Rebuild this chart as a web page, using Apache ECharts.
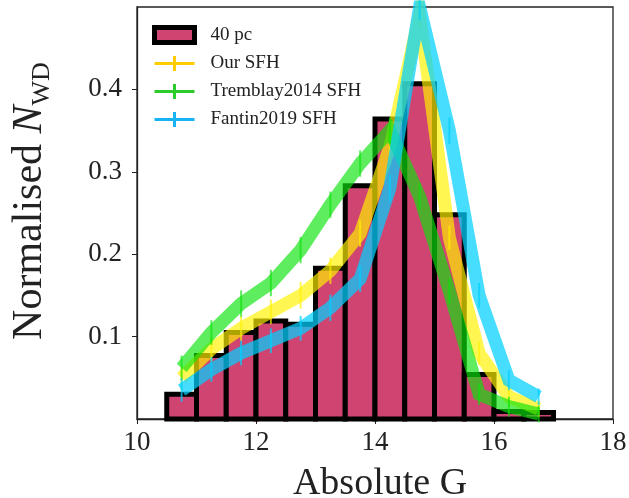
<!DOCTYPE html>
<html>
<head>
<meta charset="utf-8">
<script src="https://cdn.jsdelivr.net/npm/echarts@6/dist/echarts.min.js"></script>
<style>
  html, body { margin: 0; padding: 0; background: #fff; }
  #chart { width: 629px; height: 498px; }
</style>
</head>
<body>
<div id="chart"></div>
<script>
// Histogram of the 40 pc white dwarf sample (bin edges in absolute G magnitude)
const binEdges = [10.5, 11.0, 11.5, 12.0, 12.5, 13.0, 13.5, 14.0, 14.5, 15.0, 15.5, 16.0, 16.5, 17.0];
const sample40pc = [0.030, 0.077, 0.105, 0.119, 0.115, 0.183, 0.283, 0.364, 0.407, 0.248, 0.054, 0.009, 0.008];

// Model predictions at bin centres
const binCentres = [10.75, 11.25, 11.75, 12.25, 12.75, 13.25, 13.75, 14.25, 14.75, 15.25, 15.75, 16.25, 16.75];
const ourSFH      = [0.050, 0.085, 0.110, 0.130, 0.150, 0.180, 0.225, 0.330, 0.490, 0.220, 0.080, 0.027, 0.012];
const tremblaySFH = [0.062, 0.105, 0.140, 0.165, 0.205, 0.260, 0.310, 0.350, 0.270, 0.155, 0.030, 0.015, 0.006];
const fantinSFH   = [0.035, 0.060, 0.080, 0.095, 0.110, 0.135, 0.170, 0.280, 0.500, 0.350, 0.150, 0.047, 0.027];
const ourErr      = [0.015, 0.015, 0.015, 0.015, 0.016, 0.016, 0.016, 0.016, 0.016, 0.015, 0.014, 0.012, 0.010];
const tremblayErr = [0.015, 0.015, 0.016, 0.016, 0.016, 0.016, 0.016, 0.016, 0.016, 0.015, 0.013, 0.012, 0.010];
const fantinErr   = [0.014, 0.015, 0.015, 0.015, 0.015, 0.016, 0.016, 0.016, 0.016, 0.016, 0.015, 0.012, 0.010];

// Axis ticks
const xTicks = [10, 12, 14, 16, 18];
const yTicks = [0.1, 0.2, 0.3, 0.4];

const FONT = 'Liberation Serif';
const BAR_FILL = '#cf4470';

const models = [
  { name: 'Our SFH',          values: ourSFH,      err: ourErr,      band: 'rgba(255,242,0,0.68)', solid: '#ffcc00' },
  { name: 'Tremblay2014 SFH', values: tremblaySFH, err: tremblayErr, band: 'rgba(10,228,10,0.66)', solid: '#2ccc2c' },
  { name: 'Fantin2019 SFH',   values: fantinSFH,   err: fantinErr,   band: 'rgba(0,208,255,0.72)', solid: '#16b4f2' }
];

// Legend "+" glyph sized to the legend item box (40 x 15)
const PLUS = 'path://M0,6 L18.5,6 L18.5,0 L21.5,0 L21.5,6 L40,6 L40,9 L21.5,9 L21.5,15 L18.5,15 L18.5,9 L0,9 Z';

const histData = sample40pc.map((v, i) => [binEdges[i], binEdges[i + 1], v]);

const series = [{
  name: '40 pc',
  type: 'custom',
  data: histData,
  encode: { x: [0, 1], y: 2 },
  z: 1,
  renderItem: function (params, api) {
    const p0 = api.coord([api.value(0), api.value(2)]);
    const p1 = api.coord([api.value(1), 0]);
    return {
      type: 'rect',
      shape: { x: p0[0], y: p0[1], width: p1[0] - p0[0], height: p1[1] - p0[1] },
      style: { fill: BAR_FILL, stroke: '#000', lineWidth: 5 }
    };
  }
}];

models.forEach(function (m, k) {
  series.push({
    name: m.name,
    type: 'line',
    data: binCentres.map((x, i) => [x, m.values[i]]),
    symbol: 'none',
    z: 3 + k * 2,
    lineStyle: { color: m.band, width: 13, cap: 'butt', join: 'miter' },
    itemStyle: { color: m.solid },
    emphasis: { disabled: true }
  });
  // vertical error bars on each model point
  series.push({
    name: m.name,
    type: 'custom',
    z: 4 + k * 2,
    data: binCentres.map((x, i) => [x, m.values[i], m.err[i]]),
    encode: { x: 0, y: 1 },
    renderItem: function (params, api) {
      const x = api.value(0), y = api.value(1), e = api.value(2);
      const a = api.coord([x, y - e]);
      const b = api.coord([x, y + e]);
      return {
        type: 'line',
        shape: { x1: a[0], y1: a[1], x2: b[0], y2: b[1] },
        style: { stroke: m.band, lineWidth: 2 }
      };
    }
  });
});

const chart = echarts.init(document.getElementById('chart'), null, { renderer: 'canvas' });
chart.setOption({
  animation: false,
  backgroundColor: '#fff',
  grid: {
    left: 137, right: 16, top: 7, bottom: 79,
    outerBoundsMode: 'none', containLabel: false,
    show: true, borderColor: '#222', borderWidth: 1.3, backgroundColor: 'transparent'
  },
  legend: {
    left: 147, top: 20, orient: 'vertical',
    itemWidth: 40, itemHeight: 15, itemGap: 9,
    selectedMode: false,
    textStyle: { fontFamily: FONT, fontSize: 19, color: '#222', padding: [0, 0, 0, 11] },
    data: [
      { name: '40 pc', icon: 'rect', itemStyle: { color: BAR_FILL, borderColor: '#000', borderWidth: 5 } },
      { name: 'Our SFH', icon: PLUS, itemStyle: { color: models[0].solid, borderWidth: 0 } },
      { name: 'Tremblay2014 SFH', icon: PLUS, itemStyle: { color: models[1].solid, borderWidth: 0 } },
      { name: 'Fantin2019 SFH', icon: PLUS, itemStyle: { color: models[2].solid, borderWidth: 0 } }
    ]
  },
  xAxis: {
    type: 'value', min: 10, max: 18, interval: 2,
    name: 'Absolute G', nameLocation: 'middle', nameGap: 46,
    nameTextStyle: { fontFamily: FONT, fontSize: 38, color: '#222', padding: [0, 0, 0, 10] },
    axisLine: { show: true, onZero: false, lineStyle: { color: '#222', width: 1.3 } },
    axisTick: { show: true, inside: false, length: 5, lineStyle: { color: '#222' }, customValues: xTicks },
    axisLabel: { fontFamily: FONT, fontSize: 27, color: '#222', margin: 10, customValues: xTicks },
    splitLine: { show: false }
  },
  yAxis: {
    type: 'value', min: 0, max: 0.5, interval: 0.1,
    name: '{a|Normalised }{b|N}{c|WD}', nameLocation: 'middle', nameGap: 82, nameRotate: 90,
    nameTextStyle: {
      color: '#222',
      rich: {
        a: { fontFamily: FONT, fontSize: 42, color: '#222', verticalAlign: 'top', lineHeight: 46, padding: [0, 0, 0, 24] },
        b: { fontFamily: FONT, fontSize: 42, fontStyle: 'italic', color: '#222', verticalAlign: 'top', lineHeight: 46 },
        c: { fontFamily: FONT, fontSize: 26, color: '#222', verticalAlign: 'bottom', lineHeight: 26 }
      }
    },
    axisLine: { show: true, onZero: false, lineStyle: { color: '#222', width: 1.3 } },
    axisTick: { show: true, inside: false, length: 5, lineStyle: { color: '#222' }, customValues: yTicks },
    axisLabel: { fontFamily: FONT, fontSize: 27, color: '#222', margin: 15, customValues: yTicks, formatter: v => v.toFixed(1) },
    splitLine: { show: false }
  },
  series: series
});
</script>
</body>
</html>
